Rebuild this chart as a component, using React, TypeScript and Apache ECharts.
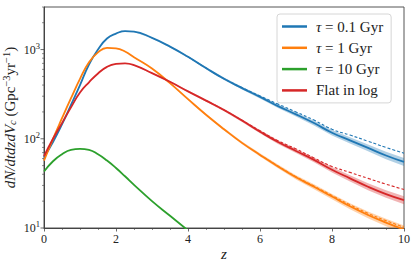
import React, { useEffect, useRef } from "react";
import * as echarts from "echarts";

const Z = [0, 0.25, 0.5, 0.75, 1, 1.25, 1.5, 1.75, 2, 2.25, 2.5, 3, 3.5, 4, 4.5, 5, 5.5, 6, 6.5, 7, 7.5, 8, 8.5, 9, 9.5, 10];

const TAU01 = [62, 92, 145, 240, 400, 680, 1000, 1330, 1510, 1610, 1590, 1350, 1080, 830, 620, 470, 370, 295, 232, 188, 150, 117, 96, 79, 65, 55];
const TAU01_DASH = [null, null, null, null, null, null, null, null, null, null, null, null, null, 830, 620, 472, 375, 302, 245, 200, 162, 128, 110, 94, 80, 69];
const TAU1 = [57, 100, 170, 285, 470, 720, 930, 1045, 1030, 950, 820, 613, 420, 278, 186, 128, 90, 66, 49, 37, 29, 22.5, 17.5, 14, 11.5, 9.6];
const TAU1_DASH = [null, null, null, null, null, null, null, null, null, null, null, null, null, null, null, null, null, 66, 49.5, 37.5, 29.5, 23.2, 18.2, 14.6, 12.1, 10.2];
const TAU10 = [43, 56, 67, 75, 77, 75, 67, 57, 47, 38, 30.5, 20, 13.7, 9.4, null, null, null, null, null, null, null, null, null, null, null, null];
const FLAT = [64, 100, 150, 225, 330, 430, 540, 640, 690, 700, 670, 545, 435, 340, 268, 210, 160, 120, 92, 73, 58, 45, 36, 29, 24, 20.5];
const FLAT_DASH = [null, null, null, null, null, null, null, null, null, null, null, null, null, null, 268, 210, 161, 123, 95, 77, 61, 49, 42, 36, 31, 27];
// half-width of the shaded uncertainty band (dex)
const BAND_DEX = [0.003, 0.003, 0.003, 0.003, 0.003, 0.003, 0.003, 0.003, 0.003, 0.003, 0.004, 0.007, 0.009, 0.01, 0.012, 0.014, 0.016, 0.018, 0.021, 0.024, 0.027, 0.03, 0.034, 0.038, 0.042, 0.045];

const NAMES = ["τ = 0.1 Gyr", "τ = 1 Gyr", "τ = 10 Gyr", "Flat in log"];
const COLORS = ["#1f77b4", "#ff7f0e", "#2ca02c", "#d62728"];

const X_TICKS = [0, 2, 4, 6, 8, 10];
const Y_MAJOR = [10, 100, 1000];
const Y_MINOR = [20, 30, 40, 50, 60, 70, 80, 90, 200, 300, 400, 500, 600, 700, 800, 900, 2000, 3000];

const SERIF = "'Liberation Serif', 'DejaVu Serif', serif";

function pairs(vals: (number | null)[]) {
  return Z.map((z, i) => [z, vals[i]]);
}

function bandSeries(vals: number[], color: string, key: string) {
  const lower = vals.map((v, i) => v * Math.pow(10, -BAND_DEX[i]));
  const upper = vals.map((v, i) => v * Math.pow(10, BAND_DEX[i]));
  const data = Z.map((z, i) => [z, lower[i], upper[i]]);
  return {
    type: "custom",
    name: key,
    silent: true,
    clip: true,
    data,
    encode: { x: 0, y: [1, 2] },
    renderItem: (params: any, api: any) => {
      if (params.dataIndex !== 0) return null;
      const top = data.map((d) => api.coord([d[0], d[2]]));
      const bot = data.map((d) => api.coord([d[0], d[1]])).reverse();
      return {
        type: "polygon",
        shape: { points: top.concat(bot), smooth: 0 },
        style: { fill: color, opacity: 0.35 },
      };
    },
  };
}

function dashSeries(vals: (number | null)[], color: string, key: string) {
  return {
    type: "line",
    name: key + "_dash",
    data: pairs(vals),
    smooth: true,
    symbol: "none",
    silent: true,
    lineStyle: { color, width: 1.1, type: [3, 2] },
  };
}

function mainSeries(vals: (number | null)[], color: string, name: string) {
  return {
    type: "line",
    name,
    data: pairs(vals),
    smooth: true,
    symbol: "none",
    itemStyle: { color },
    lineStyle: { color, width: 1.8 },
  };
}

export default function App() {
  const ref = useRef<HTMLDivElement>(null);
  useEffect(() => {
    if (!ref.current) return;
    const chart = echarts.init(ref.current, undefined, { renderer: "svg" });
    const tickData = [
      ...Y_MAJOR.map((v) => [0, v, 1]),
      ...Y_MINOR.map((v) => [0, v, 0]),
    ];
    const option: any = {
      animation: false,
      backgroundColor: "#ffffff",
      grid: {
        left: 44,
        right: 11,
        top: 7,
        bottom: 37,
        containLabel: false,
        outerBoundsMode: "none",
        show: true,
        borderColor: "#555",
        borderWidth: 1,
        backgroundColor: "transparent",
      },
      legend: {
        data: NAMES,
        orient: "vertical",
        left: 277,
        top: 14,
        padding: [5, 8, 5, 5],
        itemGap: 6.3,
        itemWidth: 25,
        itemHeight: 2.5,
        icon: "rect",
        borderColor: "#d6d6d6",
        borderWidth: 1,
        borderRadius: 3,
        backgroundColor: "rgba(255,255,255,0.85)",
        textStyle: {
          fontFamily: SERIF,
          fontSize: 15,
          color: "#222",
          padding: [0, 0, 0, 4],
          rich: {
            t: { fontFamily: SERIF, fontStyle: "italic", fontSize: 15, color: "#222" },
            n: { fontFamily: SERIF, fontSize: 15, color: "#222" },
          },
        },
        formatter: (name: string) => {
          if (name.startsWith("τ")) {
            return "{t|τ}{n|" + name.slice(1) + "}";
          }
          return "{n|" + name + "}";
        },
      },
      xAxis: {
        type: "value",
        min: 0,
        max: 10,
        interval: 2,
        name: "z",
        nameLocation: "middle",
        nameGap: 18,
        nameMoveOverlap: false,
        nameTextStyle: { fontFamily: SERIF, fontStyle: "italic", fontSize: 15, color: "#222" },
        axisLine: { show: true, onZero: false, lineStyle: { color: "#444", width: 1 } },
        axisTick: { show: true, length: 3.5, lineStyle: { color: "#444", width: 0.8 } },
        minorTick: { show: true, splitNumber: 4, length: 2, lineStyle: { color: "#444", width: 0.6 } },
        splitLine: { show: false },
        axisLabel: {
          fontFamily: SERIF,
          fontSize: 12,
          color: "#222",
          margin: 5,
          formatter: (v: number) => (X_TICKS.includes(v) ? String(v) : ""),
        },
      },
      yAxis: {
        type: "log",
        logBase: 10,
        min: 10,
        max: 3000,
        name:
          "{i|dN/dtdzdV}{sub|c}{r| (Gpc}{sup|−3}{r|yr}{sup|−1}{r|)}",
        nameLocation: "middle",
        nameRotate: 90,
        nameGap: 25,
        nameMoveOverlap: false,
        nameTextStyle: {
          color: "#222",
          rich: {
            i: { fontFamily: SERIF, fontStyle: "italic", fontSize: 15, color: "#222" },
            sub: { fontFamily: SERIF, fontStyle: "italic", fontSize: 10.5, color: "#222", padding: [5, 0, 0, 0] },
            r: { fontFamily: SERIF, fontSize: 15, color: "#222" },
            sup: { fontFamily: SERIF, fontSize: 10.5, color: "#222", padding: [0, 0, 7, 0] },
          },
        },
        axisLine: { show: true, lineStyle: { color: "#444", width: 1 } },
        axisTick: { show: false },
        minorTick: { show: false },
        splitLine: { show: false },
        axisLabel: {
          margin: 4,
          formatter: (v: number) => {
            const e = Math.round(Math.log10(v));
            if (Math.abs(v - Math.pow(10, e)) > 1e-6 * v) return "";
            return "{b|10}{s|" + e + "}";
          },
          rich: {
            b: { fontFamily: SERIF, fontSize: 12, color: "#222" },
            s: { fontFamily: SERIF, fontSize: 8.5, color: "#222", padding: [0, 0, 8, 0] },
          },
        },
      },
      series: [
        bandSeries(TAU01, COLORS[0], "b01"),
        bandSeries(TAU1, COLORS[1], "b1"),
        bandSeries(FLAT, COLORS[3], "bflat"),
        dashSeries(TAU01_DASH, COLORS[0], "d01"),
        dashSeries(TAU1_DASH, COLORS[1], "d1"),
        dashSeries(FLAT_DASH, COLORS[3], "dflat"),
        mainSeries(TAU01, COLORS[0], NAMES[0]),
        mainSeries(TAU1, COLORS[1], NAMES[1]),
        mainSeries(TAU10, COLORS[2], NAMES[2]),
        mainSeries(FLAT, COLORS[3], NAMES[3]),
        {
          type: "custom",
          name: "yticks",
          silent: true,
          clip: false,
          data: tickData,
          encode: { x: 0, y: 1 },
          renderItem: (_params: any, api: any) => {
            const p = api.coord([0, api.value(1)]);
            const len = api.value(2) ? 3.5 : 2;
            return {
              type: "line",
              shape: { x1: p[0] - len, y1: p[1], x2: p[0], y2: p[1] },
              style: { stroke: "#444", lineWidth: api.value(2) ? 0.8 : 0.6 },
            };
          },
        },
      ],
    };
    chart.setOption(option);
    return () => chart.dispose();
  }, []);
  return (
    <div
      ref={ref}
      style={{ position: "fixed", left: 0, top: 0, width: 415, height: 265, background: "#fff" }}
    />
  );
}
